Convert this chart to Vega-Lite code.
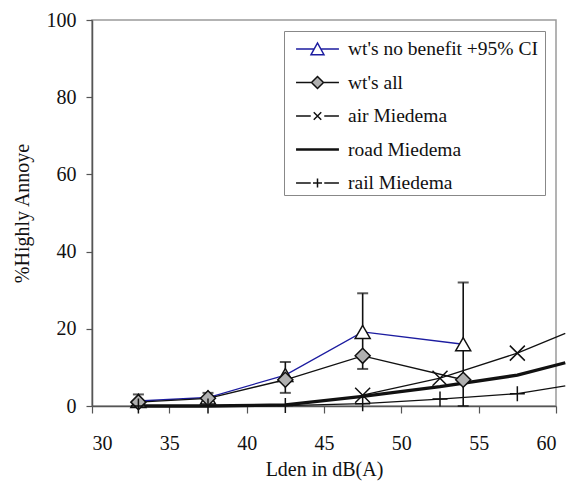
{
  "$schema": "https://vega.github.io/schema/vega-lite/v6.json",
  "width": 464,
  "height": 386,
  "autosize": {"type": "none"},
  "padding": {"left": 92, "top": 20, "right": 16, "bottom": 75},
  "background": "white",
  "config": {
    "view": {"stroke": "#9a9a9a", "strokeWidth": 1.5},
    "axis": {
      "grid": false,
      "domainColor": "#555",
      "domainWidth": 1.5,
      "tickColor": "#555",
      "tickWidth": 1.2,
      "labelFont": "Liberation Serif",
      "labelFontSize": 20,
      "labelColor": "#111",
      "titleFont": "Liberation Serif",
      "titleFontSize": 20,
      "titleFontWeight": "normal",
      "titleColor": "#111"
    }
  },
  "datasets": {
    "lines": [
      {"series": "wt's  no benefit +95% CI", "x": 33, "y": 1.3},
      {"series": "wt's  no benefit +95% CI", "x": 37.5, "y": 2.2},
      {"series": "wt's  no benefit +95% CI", "x": 42.5, "y": 8},
      {"series": "wt's  no benefit +95% CI", "x": 47.5, "y": 19.2},
      {"series": "wt's  no benefit +95% CI", "x": 54, "y": 16},
      {"series": "wt's  all", "x": 33, "y": 1.0},
      {"series": "wt's  all", "x": 37.5, "y": 2.0},
      {"series": "wt's  all", "x": 42.5, "y": 6.8},
      {"series": "wt's  all", "x": 47.5, "y": 13},
      {"series": "wt's  all", "x": 54, "y": 6.8},
      {"series": "air Miedema", "x": 47.5, "y": 2.8},
      {"series": "air Miedema", "x": 52.5, "y": 7.2},
      {"series": "air Miedema", "x": 57.5, "y": 13.7},
      {"series": "air Miedema", "x": 60.6, "y": 18.8},
      {"series": "road Miedema", "x": 33, "y": 0},
      {"series": "road Miedema", "x": 37.5, "y": 0},
      {"series": "road Miedema", "x": 42.5, "y": 0.3},
      {"series": "road Miedema", "x": 47.5, "y": 2.5},
      {"series": "road Miedema", "x": 52.5, "y": 5},
      {"series": "road Miedema", "x": 57.5, "y": 8},
      {"series": "road Miedema", "x": 60.6, "y": 11.2},
      {"series": "rail Miedema", "x": 33, "y": 0},
      {"series": "rail Miedema", "x": 37.5, "y": 0},
      {"series": "rail Miedema", "x": 42.5, "y": 0.1},
      {"series": "rail Miedema", "x": 47.5, "y": 0.6},
      {"series": "rail Miedema", "x": 52.5, "y": 1.8},
      {"series": "rail Miedema", "x": 57.5, "y": 3.2},
      {"series": "rail Miedema", "x": 60.6, "y": 5.2}
    ],
    "bars": [
      {"x": 33, "lo": 0.8, "hi": 3.0},
      {"x": 37.5, "lo": 1.2, "hi": 3.4},
      {"x": 42.5, "lo": 3.4, "hi": 11.4},
      {"x": 47.5, "lo": 9.6, "hi": 29.2},
      {"x": 54, "lo": 0, "hi": 32}
    ]
  },
  "layer": [
    {
      "data": {"name": "lines"},
      "transform": [{"filter": "datum.series !== 'road Miedema'"}],
      "mark": {"type": "line", "strokeWidth": 1.3},
      "encoding": {
        "x": {
          "field": "x", "type": "quantitative",
          "scale": {"domain": [30, 60], "nice": false, "zero": false},
          "axis": {"values": [30, 35, 40, 45, 50, 55, 60], "tickSize": 7, "labelPadding": 20, "title": "Lden in dB(A)", "titlePadding": 6, "format": "d"}
        },
        "y": {
          "field": "y", "type": "quantitative",
          "scale": {"domain": [0, 100], "nice": false},
          "axis": {"values": [0, 20, 40, 60, 80, 100], "tickSize": 6, "labelPadding": 10, "title": "%Highly Annoye", "titlePadding": 14}
        },
        "color": {
          "field": "series", "type": "nominal",
          "scale": {"domain": ["wt's  no benefit +95% CI", "wt's  all", "air Miedema", "rail Miedema"], "range": ["#1c1ca0", "#111111", "#111111", "#111111"]},
          "legend": null
        }
      }
    },
    {
      "data": {"name": "lines"},
      "transform": [{"filter": "datum.series === 'road Miedema'"}],
      "mark": {"type": "line", "strokeWidth": 3.3, "color": "#111"},
      "encoding": {
        "x": {"field": "x", "type": "quantitative"},
        "y": {"field": "y", "type": "quantitative"}
      }
    },
    {
      "data": {"name": "bars"},
      "mark": {"type": "rule", "color": "#111", "strokeWidth": 1.6},
      "encoding": {
        "x": {"field": "x", "type": "quantitative"},
        "y": {"field": "lo", "type": "quantitative"},
        "y2": {"field": "hi"}
      }
    },
    {
      "data": {"name": "bars"},
      "mark": {"type": "tick", "orient": "horizontal", "color": "#111", "size": 11, "thickness": 2},
      "encoding": {
        "x": {"field": "x", "type": "quantitative"},
        "y": {"field": "lo", "type": "quantitative"}
      }
    },
    {
      "data": {"name": "bars"},
      "mark": {"type": "tick", "orient": "horizontal", "color": "#111", "size": 11, "thickness": 2},
      "encoding": {
        "x": {"field": "x", "type": "quantitative"},
        "y": {"field": "hi", "type": "quantitative"}
      }
    },
    {
      "data": {"name": "lines"},
      "transform": [{"filter": "datum.x <= 60 && datum.series !== 'road Miedema'"}],
      "mark": {"type": "point", "filled": false, "stroke": "#111", "strokeWidth": 1.5, "opacity": 1},
      "encoding": {
        "x": {"field": "x", "type": "quantitative"},
        "y": {"field": "y", "type": "quantitative"},
        "shape": {
          "field": "series", "type": "nominal",
          "scale": {"domain": ["wt's  no benefit +95% CI", "wt's  all", "air Miedema", "rail Miedema"], "range": ["triangle-up", "diamond", "M-1,-1L1,1M-1,1L1,-1", "M-1,0H1M0,-1V1"]},
          "legend": null
        },
        "fill": {
          "field": "series", "type": "nominal",
          "scale": {"domain": ["wt's  no benefit +95% CI", "wt's  all", "air Miedema", "rail Miedema"], "range": ["white", "#b0b0b0", "transparent", "transparent"]},
          "legend": null
        },
        "size": {
          "field": "series", "type": "nominal",
          "scale": {"domain": ["wt's  no benefit +95% CI", "wt's  all", "air Miedema", "rail Miedema"], "range": [225, 225, 90, 100]},
          "legend": null
        }
      }
    },
    {
      "data": {"name": "lines"},
      "transform": [{"filter": "false"}],
      "mark": {"type": "point", "filled": false, "opacity": 1},
      "encoding": {
        "shape": {
          "field": "series", "type": "nominal",
          "scale": {
            "domain": ["wt's  no benefit +95% CI", "wt's  all", "air Miedema", "road Miedema", "rail Miedema"],
            "range": [
              "M-1.43,0H-0.22M0.22,0H1.43M-0.43,0.38L0,-0.4L0.43,0.38Z",
              "M-1.43,0H-0.4M0.4,0H1.43M-0.4,0L0,-0.4L0.4,0L0,0.4Z",
              "M-1.43,0H-0.45M0.45,0H1.43M-0.25,-0.25L0.25,0.25M-0.25,0.25L0.25,-0.25",
              "M-1.43,-0.04H1.43M-1.43,0.04H1.43M-1.43,0H1.43",
              "M-1.43,0H-0.45M0.45,0H1.43M-0.3,0H0.3M0,-0.3V0.3"
            ]
          },
          "legend": {
            "title": null,
            "orient": "top-right",
            "offset": 11,
            "symbolSize": 900,
            "symbolOffset": 15.5,
            "labelOffset": 14.5,
            "labelFont": "Liberation Serif",
            "labelFontSize": 19.5,
            "labelColor": "#111",
            "labelLimit": 400,
            "strokeColor": "#888",
            "fillColor": "white",
            "padding": 2,
            "rowPadding": 7.5
          }
        },
        "stroke": {
          "field": "series", "type": "nominal",
          "scale": {"domain": ["wt's  no benefit +95% CI", "wt's  all", "air Miedema", "road Miedema", "rail Miedema"], "range": ["#1c1ca0", "#111111", "#111111", "#111111", "#111111"]}
        },
        "fill": {
          "field": "series", "type": "nominal",
          "scale": {"domain": ["wt's  no benefit +95% CI", "wt's  all", "air Miedema", "road Miedema", "rail Miedema"], "range": ["white", "#b0b0b0", "transparent", "transparent", "transparent"]}
        }
      }
    }
  ],
  "resolve": {
    "scale": {"shape": "independent", "fill": "independent", "color": "independent", "stroke": "independent", "size": "independent"},
    "legend": {"shape": "independent", "fill": "independent", "color": "independent", "stroke": "independent", "size": "independent"}
  }
}
